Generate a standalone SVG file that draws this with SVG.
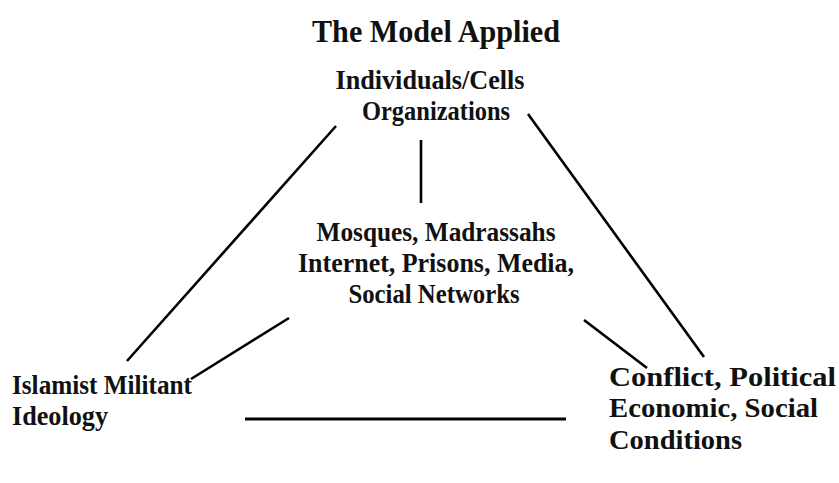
<svg xmlns="http://www.w3.org/2000/svg" width="839" height="483" viewBox="0 0 839 483">
<style>
text{font-family:"Liberation Serif","Times New Roman",serif;font-weight:bold;fill:#111;font-size:27px}
.c{text-anchor:middle}
.t{font-size:31px}
.ln{stroke:#000;stroke-width:2.6;stroke-linecap:butt;fill:none}
</style>
<rect width="839" height="483" fill="#fff"/>
<text class="c t" x="436" y="42" textLength="248" lengthAdjust="spacingAndGlyphs">The Model Applied</text>
<g id="individuals">
<text class="c" x="430" y="89" textLength="189" lengthAdjust="spacingAndGlyphs">Individuals/Cells</text>
<text class="c" x="436" y="120" textLength="148" lengthAdjust="spacingAndGlyphs">Organizations</text>
</g>
<g id="mosques">
<text class="c" x="436" y="241" textLength="239" lengthAdjust="spacingAndGlyphs">Mosques, Madrassahs</text>
<text class="c" x="436" y="272" textLength="276" lengthAdjust="spacingAndGlyphs">Internet, Prisons, Media,</text>
<text class="c" x="434" y="303" textLength="171" lengthAdjust="spacingAndGlyphs">Social Networks</text>
</g>
<g id="ideology">
<text x="12" y="394" textLength="180" lengthAdjust="spacingAndGlyphs">Islamist Militant</text>
<text x="12" y="425" textLength="96" lengthAdjust="spacingAndGlyphs">Ideology</text>
</g>
<g id="conditions">
<text x="609" y="386" textLength="227" lengthAdjust="spacingAndGlyphs">Conflict, Political</text>
<text x="609" y="417" textLength="209" lengthAdjust="spacingAndGlyphs">Economic, Social</text>
<text x="609" y="449" textLength="133" lengthAdjust="spacingAndGlyphs">Conditions</text>
</g>
<g id="connectors">
<line class="ln" x1="421" y1="140" x2="421" y2="203"/>
<line class="ln" x1="336" y1="126" x2="127" y2="361"/>
<line class="ln" x1="289" y1="318" x2="191" y2="379"/>
<line class="ln" x1="584" y1="320" x2="647" y2="368"/>
<line class="ln" x1="528" y1="114" x2="704" y2="357"/>
<line class="ln" x1="245" y1="419" x2="566" y2="419" style="stroke-width:3"/>
</g>
</svg>
